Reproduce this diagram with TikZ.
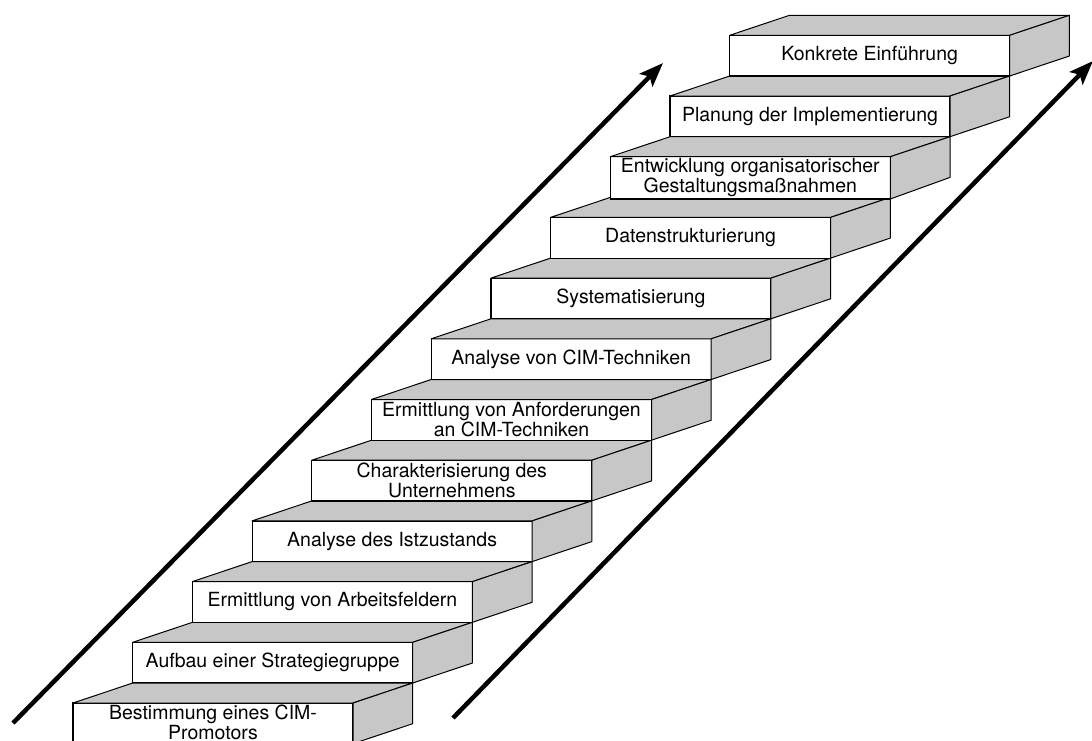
\documentclass[tikz,border=0pt]{standalone}
\usepackage{fontspec}
\setmainfont{TeX Gyre Heros}
\usetikzlibrary{arrows.meta}
\begin{document}
\begin{tikzpicture}[x=1pt,y=-1pt,
  face/.style={draw=black, line width=1pt, fill=black!22, line join=round},
  front/.style={draw=black, line width=1.2pt, fill=white, anchor=north west,
    minimum width=280pt, minimum height=40.7pt, outer sep=0pt, inner sep=2pt,
    align=center, font=\fontsize{19.5}{17}\selectfont},
  label/.style={anchor=north, inner sep=0pt, align=center, font=\fontsize{19.5}{13.5}\selectfont},
  bigarrow/.style={line width=4.5pt, -{Stealth[length=24pt,width=18pt,inset=5pt]}}]
\useasboundingbox (0,0) rectangle (1092,740);
\clip (0,0) rectangle (1092,740);
\foreach \i/\t in {
  1/{Aufbau einer Strategiegruppe},
  2/{Ermittlung von Arbeitsfeldern},
  3/{Analyse des Istzustands},
  4/{Charakterisierung des\\Unternehmens},
  5/{Ermittlung von Anforderungen\\an CIM-Techniken},
  6/{Analyse von CIM-Techniken},
  7/{Systematisierung},
  8/{Datenstrukturierung},
  9/{Entwicklung organisatorischer\\Gestaltungsmaßnahmen},
  10/{Planung der Implementierung},
  11/{Konkrete Einführung}} {
  \node[front] (s\i) at (73+59.7*\i, 703-60.7*\i) {\t};
  \draw[face] (s\i.north west) -- ++(59.7,-20) -- ++(280,0) -- (s\i.north east) -- cycle;
  \draw[face] (s\i.north east) -- ++(59.7,-20) -- ++(0,40.7) -- (s\i.south east) -- cycle;
}
\node[front] (s0) at (73,703) {};
\draw[face] (s0.north west) -- ++(59.7,-20) -- ++(280,0) -- (s0.north east) -- cycle;
\draw[face] (s0.north east) -- ++(59.7,-20) -- ++(0,40.7) -- (s0.south east) -- cycle;
\node[label, yshift=-2pt] (s0t) at (s0.north) {Bestimmung eines CIM-\\Promotors};
\coordinate (la0) at (13,723);
\coordinate (la1) at (663,63);
\draw[bigarrow] (la0) -- (la1);
\coordinate (ra0) at (453,718);
\coordinate (ra1) at (1093,61);
\draw[bigarrow] (ra0) -- (ra1);
\end{tikzpicture}
\end{document}
